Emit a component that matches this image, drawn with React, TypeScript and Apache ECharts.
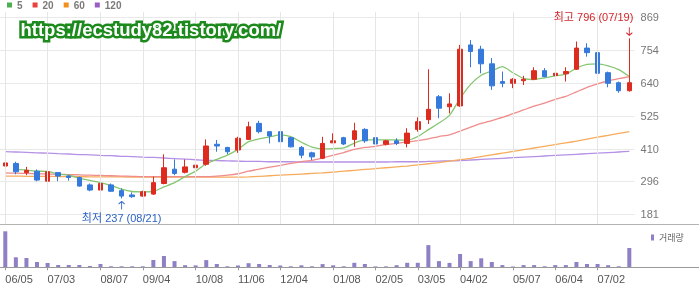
import React, { useEffect, useRef } from 'react';
import * as echarts from 'echarts';

// weekly categories (MM/DD)
const categories = [
  '06/05', '06/12', '06/19', '06/26', '07/03', '07/10', '07/17', '07/24', '07/31', '08/07',
  '08/14', '08/21', '08/28', '09/04', '09/11', '09/18', '09/25', '10/02', '10/08', '10/16',
  '10/23', '10/30', '11/06', '11/13', '11/20', '11/27', '12/04', '12/11', '12/18', '12/26',
  '01/02', '01/08', '01/15', '01/22', '01/29', '02/05', '02/13', '02/19', '02/26', '03/05',
  '03/11', '03/18', '03/25', '04/02', '04/08', '04/15', '04/22', '04/29', '05/07', '05/13',
  '05/20', '05/27', '06/04', '06/10', '06/17', '06/24', '07/02', '07/08', '07/15', '07/19',
];

// x-axis tick labels shown
const tickLabels = ['06/05', '07/03', '08/07', '09/04', '10/08', '11/06', '12/04', '01/08', '02/05', '03/05', '04/02', '05/07', '06/04', '07/02'];

// [open, close, low, high]
const candles = [
  [350, 361, 338, 408], [359, 330, 321, 365], [327, 335, 318, 347], [332, 301, 297, 338], [297, 330, 280, 336],
  [327, 315, 297, 327], [315, 310, 299, 318], [310, 280, 278, 313], [284, 266, 262, 289], [266, 289, 252, 310],
  [284, 262, 260, 289], [264, 245, 237, 272], [249, 243, 239, 258], [245, 260, 243, 264], [252, 292, 249, 313],
  [289, 344, 286, 391], [339, 324, 318, 373], [328, 347, 324, 373], [344, 353, 330, 365], [356, 420, 351, 443],
  [426, 420, 400, 441], [415, 400, 391, 417], [406, 447, 396, 452], [443, 487, 441, 505], [499, 470, 464, 508],
  [470, 455, 429, 470], [470, 435, 431, 473], [449, 417, 415, 452], [415, 388, 377, 420], [396, 382, 371, 400],
  [377, 429, 374, 452], [431, 438, 431, 464], [449, 427, 423, 452], [443, 473, 417, 501], [478, 438, 431, 482],
  [449, 427, 420, 462], [426, 438, 422, 441], [438, 429, 423, 447], [429, 465, 415, 482], [478, 505, 470, 520],
  [512, 548, 497, 688], [592, 552, 517, 598], [557, 567, 534, 604], [560, 758, 557, 773], [773, 750, 695, 790],
  [758, 707, 674, 770], [707, 630, 616, 727], [645, 639, 625, 680], [639, 653, 622, 657], [648, 653, 633, 665],
  [653, 683, 651, 695], [683, 662, 660, 692], [666, 674, 657, 715], [672, 680, 645, 695], [688, 762, 686, 785],
  [762, 746, 732, 779], [746, 674, 662, 750], [676, 639, 625, 680], [641, 613, 606, 645], [613, 641, 610, 796],
];

const ma5 = [
  '-', 338, 336, 332, 331, 322, 318, 307, 300, 292,
  282, 269, 261, 260, 261, 277, 292, 313, 332, 358,
  373, 388, 408, 435, 445, 452, 459, 453, 433, 416,
  410, 411, 413, 430, 441, 441, 441, 441, 440, 453,
  477, 500, 527, 586, 635, 667, 682, 697, 676, 656,
  652, 658, 665, 671, 692, 705, 707, 700, 687, 663,
];

const ma20 = [
  326, 325, 324, 323, 322, 321, 320, 319, 318, 317,
  316, 315, 314, 313, 313, 313, 313, 313, 313, 313,
  315, 318, 323, 332, 339, 346, 352, 359, 365, 370,
  378, 388, 397, 408, 415, 419, 425, 429, 434, 439,
  445, 453, 459, 472, 486, 499, 509, 520, 533, 546,
  559, 570, 583, 593, 609, 625, 637, 647, 655, 662,
];

const ma60 = [
  315, 315, 314, 314, 314, 313, 313, 313, 312, 312,
  312, 312, 311, 311, 311, 311, 311, 311, 311, 311,
  311, 311, 311, 312, 314, 316, 318, 320, 322, 324,
  326, 329, 332, 335, 338, 341, 344, 347, 350, 354,
  358, 362, 367, 372, 377, 383, 389, 395, 401, 407,
  413, 419, 425, 431, 437, 444, 451, 457, 464, 470,
];

const ma120 = [
  400, 399, 398, 396, 395, 393, 392, 390, 389, 387,
  386, 384, 383, 381, 380, 378, 376, 374, 372, 370,
  369, 368, 367, 366, 366, 365, 365, 365, 364, 364,
  364, 364, 364, 364, 364, 364, 364, 365, 365, 365,
  366, 367, 368, 369, 371, 373, 375, 377, 379, 381,
  383, 385, 387, 389, 391, 393, 395, 397, 399, 401,
];

const volumes = [
  3600, 1000, 930, 530, 430, 230, 230, 230, 130, 330,
  100, 100, 100, 100, 730, 1130, 620, 210, 190, 720,
  330, 100, 180, 410, 330, 230, 180, 100, 200, 100,
  320, 200, 100, 450, 330, 90, 90, 210, 450, 450,
  2220, 620, 440, 1330, 620, 900, 530, 220, 90, 220,
  220, 100, 220, 220, 530, 330, 330, 210, 100, 1930,
];

const yTickValues = [181, 296, 410, 525, 640, 754, 869];
const highDate = '07/19';
const lowDate = '08/21';
const watermark = 'https://ecstudy82.tistory.com/';

const FONT = '"Liberation Sans", "Noto Sans CJK KR", sans-serif';
const UP = '#de2b1f';
const DOWN = '#3479db';
const VOL = '#8f7fc4';

export default function App() {
  const ref = useRef<HTMLDivElement>(null);

  useEffect(() => {
    const chart = echarts.init(ref.current as HTMLDivElement, null, { renderer: 'svg' });
    const highs = candles.map((c) => c[3]);
    const lows = candles.map((c) => c[2]);
    const maxHigh = Math.max(...highs);
    const hiIdx = highs.indexOf(maxHigh);
    const minLow = Math.min(...lows);
    const loIdx = lows.indexOf(minLow);
    const isTick = (i: number) => tickLabels.includes(categories[i]);

    const plotRight = 64.4;

    const maSeries = (name: string, data: any[], color: string, extra: any = {}) => ({
      name,
      type: 'line',
      xAxisIndex: 0,
      yAxisIndex: 0,
      data,
      symbol: 'none',
      showSymbol: false,
      smooth: 0.2,
      silent: true,
      z: 2,
      lineStyle: { color, width: 1.3 },
      itemStyle: { color },
      ...extra,
    });

    chart.setOption({
      animation: false,
      textStyle: { fontFamily: FONT },
      legend: [
        {
          data: [
            { name: '5', itemStyle: { color: '#4caf50' } },
            { name: '20', itemStyle: { color: '#e8413e' } },
            { name: '60', itemStyle: { color: '#f28e1c' } },
            { name: '120', itemStyle: { color: '#9b5cc4' } },
          ],
          left: 7,
          top: 0,
          padding: 0,
          icon: 'rect',
          itemWidth: 5,
          itemHeight: 5,
          itemGap: 10,
          selectedMode: false,
          textStyle: { fontSize: 10, fontWeight: 'bold', color: '#7a7a7a', fontFamily: FONT },
        },
        {
          data: [{ name: '거래량', itemStyle: { color: VOL } }],
          left: 651,
          top: 233,
          padding: 0,
          icon: 'rect',
          itemWidth: 3,
          itemHeight: 6,
          selectedMode: false,
          textStyle: { fontSize: 9, color: '#666', fontFamily: FONT },
        },
      ],
      grid: [
        { left: 0, right: plotRight, top: 12, height: 212, outerBoundsMode: 'none' },
        { left: 0, right: plotRight, top: 228, height: 39.3, outerBoundsMode: 'none' },
      ],
      xAxis: [
        {
          type: 'category',
          gridIndex: 0,
          data: categories,
          boundaryGap: true,
          axisLine: { show: false },
          axisTick: { show: false },
          axisLabel: { show: false },
          splitLine: { show: false },
        },
        {
          type: 'category',
          gridIndex: 1,
          data: categories,
          boundaryGap: true,
          axisLine: { show: false },
          axisTick: { show: true, interval: isTick, alignWithLabel: true, length: 3, lineStyle: { color: '#999' } },
          axisLabel: { interval: isTick, align: 'left', margin: 6, fontSize: 11, color: '#555', fontFamily: FONT },
          splitLine: { show: false },
        },
      ],
      yAxis: [
        {
          type: 'value',
          gridIndex: 0,
          position: 'right',
          min: 147.5,
          max: 888,
          axisLine: { show: false },
          axisTick: { show: false, customValues: yTickValues },
          axisLabel: { customValues: yTickValues, margin: 6, fontSize: 11, color: '#777', fontFamily: FONT },
          splitLine: { show: true, lineStyle: { color: '#e9e9e9', width: 1 } },
        },
        {
          type: 'value',
          gridIndex: 1,
          min: 0,
          max: 3930,
          show: false,
          splitLine: { show: false },
        },
      ],
      series: [
        maSeries('120', ma120, '#b591e6', {
          markLine: {
            silent: true,
            animation: false,
            symbol: ['none', 'none'],
            label: { show: false },
            lineStyle: { color: '#e6e6e6', width: 1, type: 'solid' },
            emphasis: { disabled: true },
            data: tickLabels.map((t) => ({ xAxis: t })),
          },
        }),
        maSeries('60', ma60, '#f6ac5c'),
        maSeries('20', ma20, '#f08c8c'),
        maSeries('5', ma5, '#86c671'),
        {
          name: 'price',
          type: 'candlestick',
          xAxisIndex: 0,
          yAxisIndex: 0,
          data: candles,
          barWidth: 5,
          z: 3,
          silent: true,
          itemStyle: { color: UP, color0: DOWN, borderColor: UP, borderColor0: DOWN, borderWidth: 1 },
          markPoint: {
            silent: true,
            animation: false,
            data: [
              {
                coord: [hiIdx, maxHigh],
                symbol: 'path://M3,0L3,9M0,6L3,9L6,6',
                symbolSize: [6, 8],
                symbolOffset: [0, -7],
                itemStyle: { color: 'rgba(0,0,0,0)', borderColor: '#d2262b', borderWidth: 1 },
                label: {
                  show: true,
                  formatter: `최고 ${maxHigh} (${highDate})`,
                  position: 'inside',
                  align: 'right',
                  verticalAlign: 'middle',
                  offset: [4, -14],
                  color: '#d2262b',
                  fontSize: 11,
                  fontFamily: FONT,
                },
              },
              {
                coord: [loIdx, minLow],
                symbol: 'path://M3,0L0,3M3,0L6,3M3,0L3,9',
                symbolSize: [6, 8],
                symbolOffset: [0, 7],
                itemStyle: { color: 'rgba(0,0,0,0)', borderColor: '#2d63c4', borderWidth: 1 },
                label: {
                  show: true,
                  formatter: `최저 ${minLow} (${lowDate})`,
                  position: 'inside',
                  align: 'center',
                  verticalAlign: 'middle',
                  offset: [0, 12.5],
                  color: '#2d63c4',
                  fontSize: 11,
                  fontFamily: FONT,
                },
              },
            ],
          },
        },
        {
          name: '거래량',
          type: 'bar',
          xAxisIndex: 1,
          yAxisIndex: 1,
          data: volumes,
          barWidth: 4,
          silent: true,
          itemStyle: { color: VOL },
        },
      ],
      graphic: [
        { type: 'line', shape: { x1: 0, y1: 224.5, x2: 699, y2: 224.5 }, style: { stroke: '#b4b4b4', lineWidth: 1 }, z: 10, silent: true },
        { type: 'line', shape: { x1: 0, y1: 267.5, x2: 699, y2: 267.5 }, style: { stroke: '#9a9a9a', lineWidth: 1 }, z: 10, silent: true },
        {
          type: 'text',
          left: 18,
          top: 18,
          z: 100,
          silent: true,
          style: {
            text: watermark,
            font: `bold 18.5px ${FONT}`,
            fill: '#ffffff',
            stroke: '#1d8a1d',
            lineWidth: 5,
          },
        },
      ],
    });

    return () => chart.dispose();
  }, []);

  return <div ref={ref} style={{ position: 'fixed', left: 0, top: 0, width: 699, height: 288 }} />;
}
